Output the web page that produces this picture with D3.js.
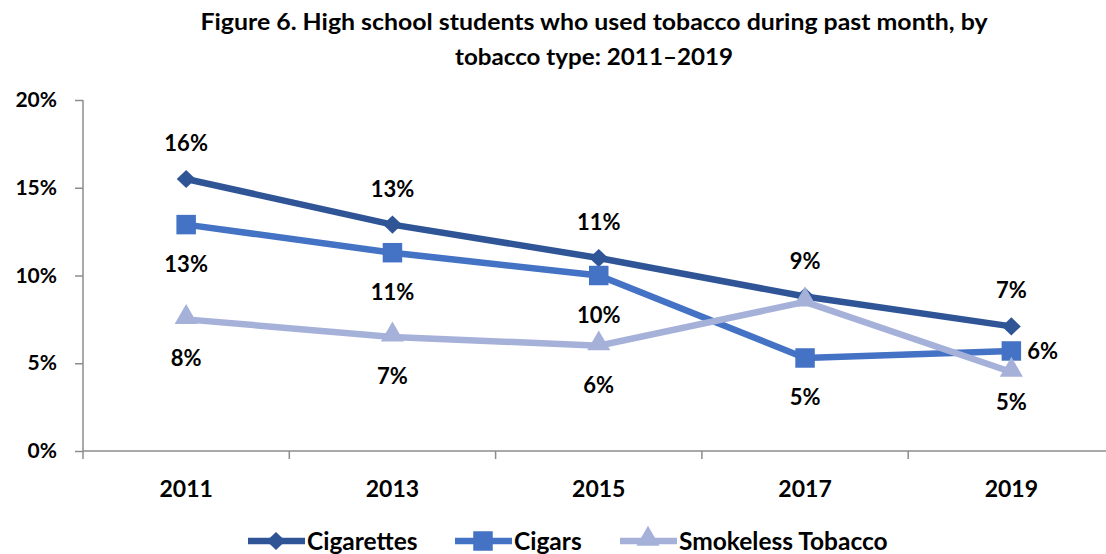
<!DOCTYPE html>
<html>
<head>
<meta charset="utf-8">
<title>Figure 6</title>
<script src="https://cdn.jsdelivr.net/npm/d3@7"></script>
<style>
    body { margin: 0; background: #fff; }
    text { font-family: Lato, "Open Sans", sans-serif; font-weight: bold; fill: #000; }
    .axis path, .axis line { stroke: #8c8c8c; stroke-width: 1.5px; }
</style>
</head>
<body>
<div id="vis"></div>
<script>
    var width = 1106, height = 554;

    // data
    var years = ["2011", "2013", "2015", "2017", "2019"];
    var cigarettes = [15.5, 12.9, 11.0, 8.8, 7.1];
    var cigars = [12.9, 11.3, 10.0, 5.3, 5.7];
    var smokeless = [7.5, 6.5, 6.0, 8.5, 4.5];
    var yTicks = [0, 5, 10, 15, 20];

    var series = [
        {name: "Cigarettes", values: cigarettes, color: "#2f5597", symbol: d3.symbolDiamond, size: 95,
            labels: ["above", "above", "above", "above", "above"]},
        {name: "Cigars", values: cigars, color: "#4472c4", symbol: d3.symbolSquare, size: 380,
            labels: ["below", "below", "below", "below", "right"]},
        {name: "Smokeless Tobacco", values: smokeless, color: "#a5b1d9", symbol: d3.symbolTriangle, size: 230,
            labels: ["below", "below", "below", null, "near"]}
    ];

    var svg = d3.select("#vis").append("svg")
            .attr("width", width)
            .attr("height", height);

    var x = d3.scaleBand().domain(years).range([83, 1114.5]);
    var y = d3.scaleLinear().domain([0, 20]).range([451, 100]);

    function markTransform(s) {
        var dy = s.symbol === d3.symbolTriangle ? -2 : 0;
        var sc = s.symbol === d3.symbolDiamond ? " scale(1.8,1)" : "";
        return function(cx, cy) { return "translate(" + cx + "," + (cy + dy) + ")" + sc; };
    }

    // title
    svg.append("text")
            .attr("x", 594).attr("y", 30)
            .attr("text-anchor", "middle")
            .attr("textLength", 787)
            .attr("lengthAdjust", "spacingAndGlyphs")
            .style("font-size", "23px")
            .text("Figure 6. High school students who used tobacco during past month, by");
    svg.append("text")
            .attr("x", 594).attr("y", 65)
            .attr("text-anchor", "middle")
            .attr("textLength", 278)
            .attr("lengthAdjust", "spacingAndGlyphs")
            .style("font-size", "23px")
            .text("tobacco type: 2011–2019");

    // axes
    var yAxis = svg.append("g")
            .attr("class", "axis")
            .attr("transform", "translate(83,0)")
            .call(d3.axisLeft(y).tickValues(yTicks).tickSize(8).tickPadding(18)
                .tickFormat(function(d) { return d + "%"; }));
    yAxis.select(".domain").attr("d", "M0," + y(20) + "V" + y(0));
    yAxis.selectAll("text").style("font-size", "21px");

    var xAxis = svg.append("g")
            .attr("class", "axis")
            .attr("transform", "translate(0,451)")
            .call(d3.axisBottom(x).tickSize(0).tickPadding(30));
    xAxis.select(".domain").attr("d", "M83,0H1114.5");
    xAxis.selectAll("text").style("font-size", "23px");
    xAxis.selectAll(".sep")
            .data(years)
            .enter().append("line")
            .attr("class", "sep")
            .attr("x1", function(d) { return x(d); })
            .attr("x2", function(d) { return x(d); })
            .attr("y1", 0).attr("y2", 8);

    var line = d3.line()
            .x(function(d, i) { return x(years[i]) + x.bandwidth() / 2; })
            .y(function(d) { return y(d); });

    series.forEach(function(s) {
        var g = svg.append("g");
        var tf = markTransform(s);
        g.append("path")
                .datum(s.values)
                .attr("d", line)
                .attr("fill", "none")
                .attr("stroke", s.color)
                .attr("stroke-width", 6.5);
        g.selectAll(".mark")
                .data(s.values)
                .enter().append("path")
                .attr("class", "mark")
                .attr("d", d3.symbol().type(s.symbol).size(s.size))
                .attr("fill", s.color)
                .attr("transform", function(d, i) {
            return tf(x(years[i]) + x.bandwidth() / 2, y(d));
        });
    });

    // data labels
    series.forEach(function(s) {
        svg.selectAll(null)
                .data(s.values.map(function(v, i) { return {v: v, i: i, pos: s.labels[i]}; })
                    .filter(function(d) { return d.pos; }))
                .enter().append("text")
                .style("font-size", "22px")
                .attr("text-anchor", function(d) { return d.pos === "right" ? "start" : "middle"; })
                .attr("x", function(d) {
            var cx = x(years[d.i]) + x.bandwidth() / 2;
            return d.pos === "right" ? cx + 16 : cx;
        })
                .attr("y", function(d) {
            var cy = y(d.v);
            if (d.pos === "above") return cy - 28;
            if (d.pos === "below") return cy + 47;
            if (d.pos === "near") return cy + 38;
            return cy + 8;
        })
                .text(function(d) { return Math.round(d.v) + "%"; });
    });

    // legend
    var legendX = [248, 455, 620];
    var legend = svg.selectAll(".legend")
            .data(series)
            .enter().append("g")
            .attr("class", "legend")
            .attr("transform", function(d, i) { return "translate(" + legendX[i] + ",541)"; });
    legend.append("line")
            .attr("x1", 0).attr("x2", 57)
            .attr("stroke", function(d) { return d.color; })
            .attr("stroke-width", 6.5);
    legend.append("path")
            .attr("d", function(d) { return d3.symbol().type(d.symbol).size(d.size)(); })
            .attr("fill", function(d) { return d.color; })
            .attr("transform", function(d) { return markTransform(d)(28, 0); });
    legend.append("text")
            .attr("x", 59).attr("y", 8.5)
            .style("font-size", "24.5px")
            .text(function(d) { return d.name; });
</script>
</body>
</html>
